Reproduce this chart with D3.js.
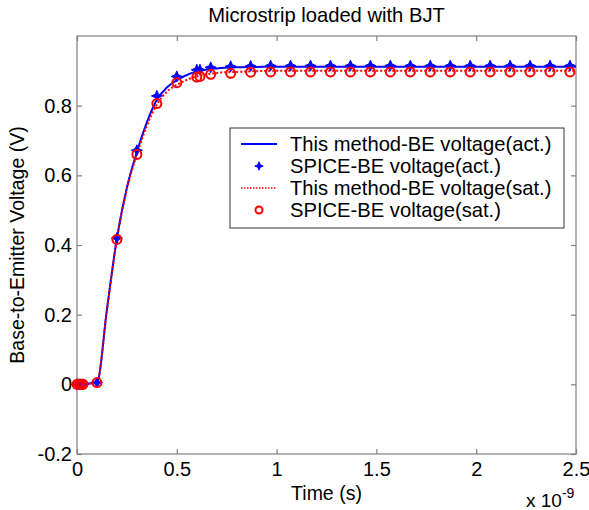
<!DOCTYPE html>
<html><head><meta charset="utf-8">
<script src="https://cdn.jsdelivr.net/npm/d3@7"></script>
<style>body{margin:0;background:#fff}svg{display:block;font-family:"Liberation Sans",Arial,sans-serif}</style>
</head><body><svg id="c" width="589" height="510"></svg>
<script>
// ---- data (time in ns, voltage in V) ----
const lineTime = [0, 0.05, 0.1, 0.15, 0.2, 0.25, 0.3, 0.35, 0.4, 0.45, 0.5, 0.55, 0.6, 0.65, 0.7, 0.8, 0.9, 1.0, 1.2, 1.5, 2.0, 2.5];
const methodAct = [0, 0.002, 0.005, 0.215, 0.42, 0.565, 0.667, 0.752, 0.817, 0.852, 0.873, 0.888, 0.898, 0.904, 0.907, 0.910, 0.911, 0.912, 0.912, 0.912, 0.912, 0.912];
const methodSat = [0, 0.002, 0.005, 0.213, 0.417, 0.56, 0.66, 0.742, 0.803, 0.84, 0.86, 0.874, 0.884, 0.89, 0.894, 0.897, 0.899, 0.9, 0.9, 0.9, 0.9, 0.9];
const spiceTime = [0, 0.01, 0.02, 0.03, 0.1, 0.2, 0.3, 0.4, 0.5, 0.6, 0.616, 0.67, 0.77, 0.87, 0.97, 1.07, 1.17, 1.27, 1.37, 1.47, 1.57, 1.67, 1.77, 1.87, 1.97, 2.07, 2.17, 2.27, 2.37, 2.47];
const spiceAct = [0, 0, 0, 0, 0.005, 0.42, 0.672, 0.828, 0.884, 0.903, 0.903, 0.910, 0.913, 0.914, 0.915, 0.915, 0.915, 0.915, 0.915, 0.915, 0.915, 0.915, 0.915, 0.915, 0.915, 0.915, 0.915, 0.915, 0.915, 0.915];
const spiceSat = [0, 0, 0, 0, 0.005, 0.416, 0.66, 0.806, 0.866, 0.882, 0.884, 0.89, 0.893, 0.896, 0.897, 0.897, 0.897, 0.897, 0.897, 0.897, 0.897, 0.897, 0.897, 0.897, 0.897, 0.897, 0.897, 0.897, 0.897, 0.897];
const xTicks = [0, 0.5, 1, 1.5, 2, 2.5];
const xTickLabels = ["0", "0.5", "1", "1.5", "2", "2.5"];
const yTicks = [-0.2, 0, 0.2, 0.4, 0.6, 0.8];
const yTickLabels = ["-0.2", "0", "0.2", "0.4", "0.6", "0.8"];
const legendLabels = ["This method-BE voltage(act.)", "SPICE-BE voltage(act.)", "This method-BE voltage(sat.)", "SPICE-BE voltage(sat.)"];

const svg = d3.select("#c");
const L = 77, R = 576, T = 36, B = 454;
const x = d3.scaleLinear().domain([0, 2.5]).range([L, R]);
const y = d3.scaleLinear().domain([-0.2, 1.0]).range([B, T]);
const axisCol = "#808080";
const FONT = '"Liberation Sans",Arial,sans-serif';

// frame
svg.append("rect").attr("x", L).attr("y", T).attr("width", R - L).attr("height", B - T)
  .attr("fill", "none").attr("stroke", axisCol).attr("stroke-width", 1.2);

function styleAxis(g) {
  g.select(".domain").remove();
  g.selectAll(".tick line").attr("stroke", axisCol).attr("stroke-width", 1.2);
  g.selectAll(".tick text").attr("fill", "#000").style("font-size", "20px").style("font-family", FONT);
}
svg.append("g").attr("transform", `translate(0,${B})`)
  .call(d3.axisBottom(x).tickValues(xTicks).tickFormat((d, i) => xTickLabels[i]).tickSizeInner(-5).tickSizeOuter(0).tickPadding(8))
  .call(styleAxis);
svg.append("g").attr("transform", `translate(0,${T})`)
  .call(d3.axisTop(x).tickValues(xTicks).tickFormat("").tickSizeInner(-5).tickSizeOuter(0))
  .call(styleAxis);
svg.append("g").attr("transform", `translate(${L},0)`)
  .call(d3.axisLeft(y).tickValues(yTicks).tickFormat((d, i) => yTickLabels[i]).tickSizeInner(-5).tickSizeOuter(0).tickPadding(5))
  .call(styleAxis);
svg.append("g").attr("transform", `translate(${R},0)`)
  .call(d3.axisRight(y).tickValues(yTicks).tickFormat("").tickSizeInner(-5).tickSizeOuter(0))
  .call(styleAxis);

// titles
svg.append("text").attr("x", (L + R) / 2).attr("y", 22).attr("text-anchor", "middle")
  .style("font-size", "20.2px").text("Microstrip loaded with BJT");
svg.append("text").attr("x", (L + R) / 2).attr("y", 500).attr("text-anchor", "middle")
  .style("font-size", "19.5px").text("Time (s)");
svg.append("text").attr("transform", `translate(24,${(T + B) / 2}) rotate(-90)`).attr("text-anchor", "middle")
  .style("font-size", "19.5px").text("Base-to-Emitter Voltage (V)");
const ex = svg.append("text").attr("x", 526).attr("y", 507).style("font-size", "19px");
ex.append("tspan").text("x 10");
ex.append("tspan").attr("dy", -9).style("font-size", "14px").text("-9");

// lines
const line = (arr) => d3.line().x((d, i) => x(lineTime[i])).y((d) => y(d)).curve(d3.curveMonotoneX)(arr);
svg.append("path").attr("d", line(methodAct)).attr("fill", "none").attr("stroke", "#0000ff").attr("stroke-width", 2);
svg.append("path").attr("d", line(methodSat)).attr("fill", "none").attr("stroke", "#ff0000").attr("stroke-width", 2).attr("stroke-dasharray", "2,2");

// markers
const starType = { draw(ctx, size) { const a = Math.sqrt(size) / 2, b = a * 0.3;
  ctx.moveTo(0, -a); ctx.lineTo(b, -b); ctx.lineTo(a, 0); ctx.lineTo(b, b); ctx.lineTo(0, a); ctx.lineTo(-b, b); ctx.lineTo(-a, 0); ctx.lineTo(-b, -b); ctx.closePath(); } };
const star = d3.symbol().type(starType).size(120);
svg.append("g").selectAll("path").data(spiceAct).join("path")
  .attr("transform", (d, i) => `translate(${x(spiceTime[i])},${y(d)})`)
  .attr("d", star).attr("fill", "#0000ff").attr("stroke", "#0000ff").attr("stroke-width", 1);
svg.append("g").selectAll("circle").data(spiceSat).join("circle")
  .attr("cx", (d, i) => x(spiceTime[i])).attr("cy", (d) => y(d)).attr("r", 4.5)
  .attr("fill", "none").attr("stroke", "#ff0000").attr("stroke-width", 2);

// legend
const lg = svg.append("g");
lg.append("rect").attr("x", 230).attr("y", 128).attr("width", 334).attr("height", 100)
  .attr("fill", "#fff").attr("stroke", "#333").attr("stroke-width", 1);
const rows = [144, 166, 188, 210];
legendLabels.forEach((t, i) => {
  lg.append("text").attr("x", 290).attr("y", rows[i]).attr("dy", "0.35em").style("font-size", "20.2px").text(t);
});
lg.append("line").attr("x1", 241).attr("x2", 277).attr("y1", rows[0]).attr("y2", rows[0]).attr("stroke", "#0000ff").attr("stroke-width", 2);
lg.append("path").attr("transform", `translate(259,${rows[1]})`).attr("d", d3.symbol().type(starType).size(70)).attr("fill", "#0000ff").attr("stroke", "#0000ff");
lg.append("line").attr("x1", 241).attr("x2", 277).attr("y1", rows[2]).attr("y2", rows[2]).attr("stroke", "#ff0000").attr("stroke-width", 1.5).attr("stroke-dasharray", "1.5,1.5");
lg.append("circle").attr("cx", 259).attr("cy", rows[3]).attr("r", 3.5).attr("fill", "none").attr("stroke", "#ff0000").attr("stroke-width", 2);
</script></body></html>
